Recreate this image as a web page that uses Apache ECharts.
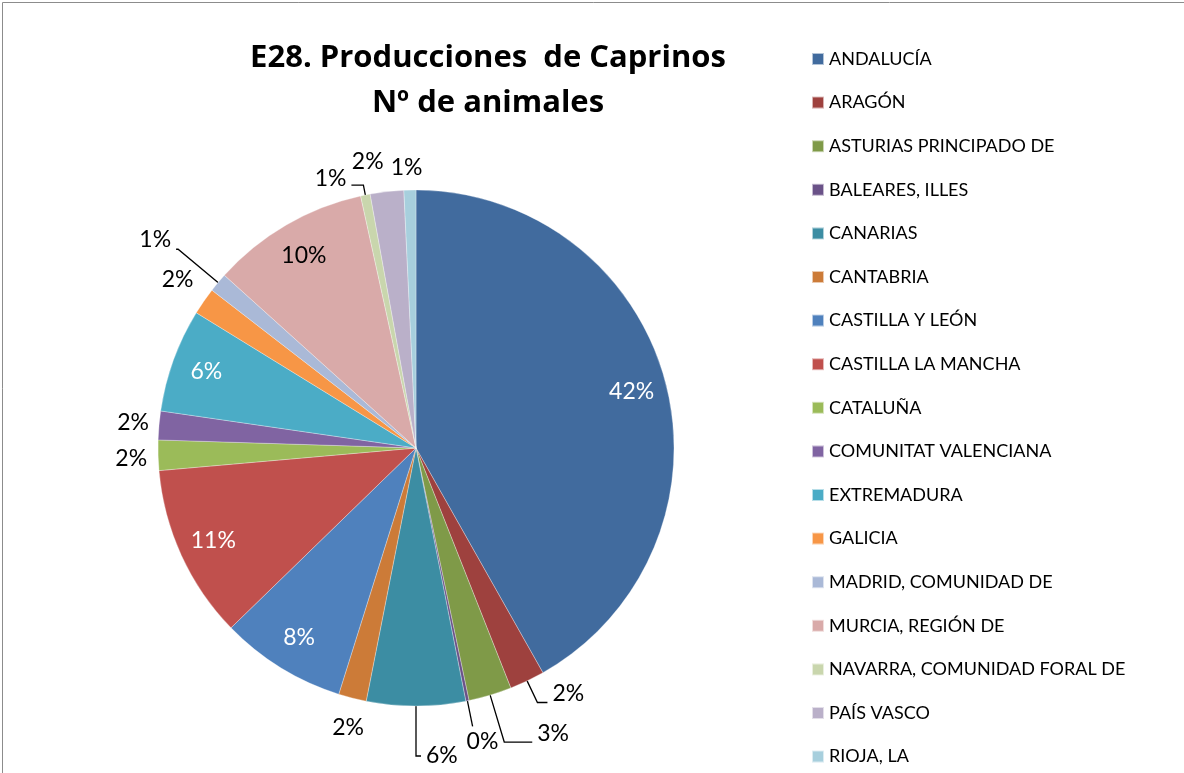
<!DOCTYPE html>
<html>
<head>
<meta charset="utf-8">
<script src="https://cdn.jsdelivr.net/npm/echarts@6/dist/echarts.min.js"></script>
<style>
html,body{margin:0;padding:0;background:#fff;}
#chart{width:1184px;height:773px;}
</style>
</head>
<body>
<div id="chart"></div>
<script>
// regiones, en el orden de la leyenda (sentido horario desde las 12)
var regions = ['ANDALUCÍA', 'ARAGÓN', 'ASTURIAS PRINCIPADO DE', 'BALEARES, ILLES', 'CANARIAS',
  'CANTABRIA', 'CASTILLA Y LEÓN', 'CASTILLA LA MANCHA', 'CATALUÑA', 'COMUNITAT VALENCIANA',
  'EXTREMADURA', 'GALICIA', 'MADRID, COMUNIDAD DE', 'MURCIA, REGIÓN DE',
  'NAVARRA, COMUNIDAD FORAL DE', 'PAÍS VASCO', 'RIOJA, LA'];
// % de animales
var shares = [41.9, 2.2, 2.7, 0.2, 6.2, 1.75, 7.9, 10.9, 1.9, 1.8, 6.5, 1.7, 1.2, 9.9, 0.6, 2.1, 0.75];
var colors = ['#416b9e', '#9e413e', '#7f9a48', '#6a5288', '#3c8da3', '#cc7b38', '#4f81bd', '#c0504d',
  '#9bbb59', '#8064a2', '#4bacc6', '#f79646', '#aab9d7', '#d9aaa9', '#c9d6ad', '#bab0c9', '#a7cfdd'];
var insideIdx = [0, 6, 7, 10, 13];

// guías de las etiquetas exteriores: [length, length2, distancia, con línea, desplazamiento vertical]
var leader = {
  1: [24, 10, 5, true, -9],
  2: [49, 28, 5, true, -8],
  3: [26, 0, -6, true, 15],
  4: [50, 5, 5, true, 0],
  5: [22, 0, -17, false, 8],
  8: [6, 0, 5, false, 3],
  9: [5, 0, 5, false, -2],
  11: [32, 0, -16, false, -3],
  12: [52, 2, 5, true, -10],
  14: [10, 12, 5, true, -7],
  15: [30, 0, 0, false, 0],
  16: [22, 0, -13, false, 0]
};

var FONT = 'Lato, "Open Sans", sans-serif';
var pct = function (p) { return Math.round(p.percent) + '%'; };

var mainData = [], ringData = [];
for (var i = 0; i < regions.length; i++) {
  var inside = insideIdx.indexOf(i) >= 0;
  var ld = leader[i] || [10, 5, 5, false, 0];
  mainData.push({
    name: regions[i],
    value: shares[i],
    itemStyle: { color: colors[i] },
    label: { show: !inside, distanceToLabelLine: ld[2] },
    labelLine: { show: !inside && ld[3], length: ld[0], length2: ld[1] }
  });
  ringData.push({
    name: regions[i],
    value: shares[i],
    label: { show: inside, color: i === 13 ? '#000' : '#fff' }
  });
}

var chart = echarts.init(document.getElementById('chart'));
chart.setOption({
  backgroundColor: '#fff',
  animation: false,
  title: {
    text: 'E28. Producciones  de Caprinos\nNº de animales',
    left: 483,
    top: 31,
    textAlign: 'center',
    textStyle: { fontFamily: '"Open Sans", Lato, sans-serif', fontSize: 31, fontWeight: 'bold', color: '#000', lineHeight: 45 }
  },
  legend: {
    orient: 'vertical',
    left: 806,
    top: 44,
    height: 900,
    icon: 'rect',
    itemWidth: 12,
    itemHeight: 12,
    itemGap: 23.6,
    selectedMode: false,
    textStyle: { fontFamily: FONT, fontSize: 18, color: '#000', lineHeight: 20 },
    data: regions
  },
  graphic: [{
    type: 'rect',
    shape: { x: 2.5, y: 2.5, width: 1300, height: 900 },
    style: { fill: 'none', stroke: '#8c8c8c', lineWidth: 1 },
    silent: true
  }],
  series: [{
    type: 'pie',
    center: [416, 448],
    radius: 258,
    startAngle: 90,
    clockwise: true,
    avoidLabelOverlap: false,
    itemStyle: { borderColor: 'rgba(255,255,255,0.6)', borderWidth: 0.5 },
    label: {
      position: 'outside',
      formatter: pct,
      fontFamily: FONT,
      fontSize: 23,
      color: '#000'
    },
    labelLine: { lineStyle: { color: '#000', width: 1.3 } },
    labelLayout: function (p) {
      var ld = leader[p.dataIndex];
      return ld ? { dy: ld[4] } : {};
    },
    emphasis: { disabled: true },
    data: mainData
  }, {
    type: 'pie',
    center: [416, 448],
    radius: [182, 258],
    startAngle: 90,
    clockwise: true,
    silent: true,
    itemStyle: { color: 'rgba(0,0,0,0)' },
    label: { position: 'inside', formatter: pct, fontFamily: FONT, fontSize: 23 },
    labelLine: { show: false },
    emphasis: { disabled: true },
    data: ringData
  }]
});
</script>
</body>
</html>
